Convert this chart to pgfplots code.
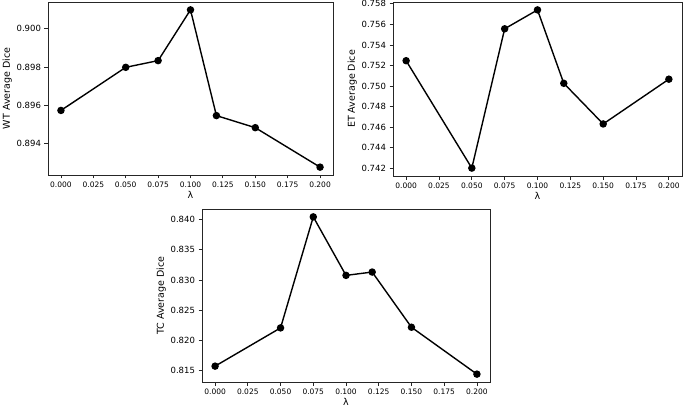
\documentclass[border=0pt]{standalone}
\usepackage{fontspec}
\setmainfont{DejaVu Sans}
\usepackage{pgfplots}
\pgfplotsset{compat=1.18}

\pgfplotsset{
  dice/.style={
    scale only axis,
    anchor=south west,
    axis line style={line width=0.8pt, black!85},
    tick style={line width=0.8pt, black!85},
    tick align=outside,
    major tick length=3.5pt,
    xtick pos=bottom, ytick pos=left,
    xmin=-0.01, xmax=0.21,
    xtick={0,0.025,...,0.2001},
    scaled ticks=false,
    /pgf/number format/assume math mode=true,
    xticklabel style={font=\fontsize{7.5}{8}\selectfont,
      /pgf/number format/.cd, fixed, fixed zerofill, precision=3},
    yticklabel style={font=\fontsize{8.5}{9}\selectfont,
      /pgf/number format/.cd, fixed, fixed zerofill, precision=3},
    label style={font=\fontsize{9.5}{10}\selectfont},
    xlabel={λ},
    xlabel style={yshift=3pt},
    ylabel style={yshift=-2pt},
  },
  diceline/.style={black, line width=1.4pt, mark=*, mark size=3pt},
}

\begin{document}
\begin{tikzpicture}
\useasboundingbox (0pt,0pt) rectangle (685pt,410pt);

\begin{axis}[dice, at={(48pt,235pt)}, width=285pt, height=173pt,
  ymin=0.89237, ymax=0.90140,
  ytick={0.894,0.896,0.898,0.900},
  ylabel={WT Average Dice}]
\addplot[diceline] coordinates {
  (0.000,0.89574) (0.050,0.89799) (0.075,0.89834) (0.100,0.90099)
  (0.120,0.89547) (0.150,0.89484) (0.200,0.89278)
};
\end{axis}

\begin{axis}[dice, at={(393pt,234pt)}, width=289pt, height=174pt,
  ymin=0.74123, ymax=0.75818,
  ytick={0.742,0.744,...,0.7581},
  ylabel={ET Average Dice}]
\addplot[diceline] coordinates {
  (0.000,0.75246) (0.050,0.74200) (0.075,0.75557) (0.100,0.75741)
  (0.120,0.75026) (0.150,0.74630) (0.200,0.75066)
};
\end{axis}

\begin{axis}[dice, at={(202pt,28pt)}, width=288pt, height=173pt,
  ymin=0.81315, ymax=0.84174,
  ytick={0.815,0.820,...,0.8401},
  ylabel={TC Average Dice}]
\addplot[diceline] coordinates {
  (0.000,0.81577) (0.050,0.82209) (0.075,0.84044) (0.100,0.83077)
  (0.120,0.83132) (0.150,0.82220) (0.200,0.81445)
};
\end{axis}
\end{tikzpicture}
\end{document}
